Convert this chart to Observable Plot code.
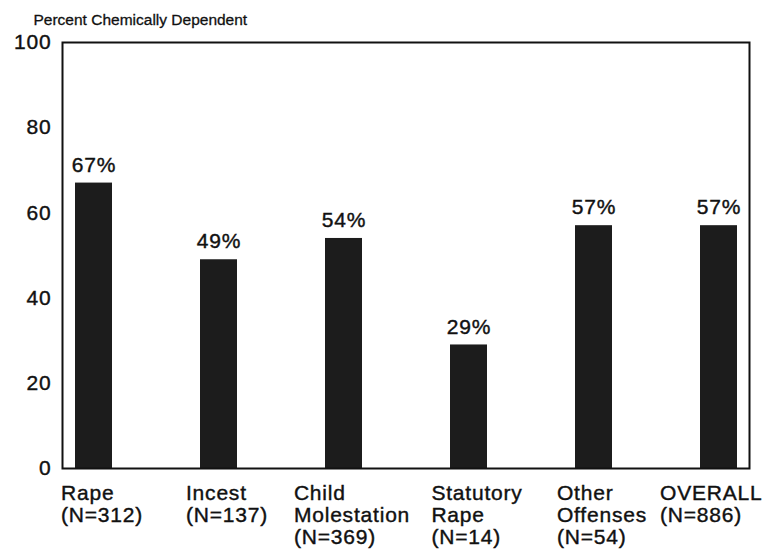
<!DOCTYPE html>
<html>
<head>
<meta charset="utf-8">
<script src="https://cdn.jsdelivr.net/npm/d3@7"></script>
<script src="https://cdn.jsdelivr.net/npm/@observablehq/plot@0.6"></script>
<style>
  html, body { margin: 0; padding: 0; background: #fff; }
  svg { display: block; }
  svg text { letter-spacing: 0.8px; stroke: #111; stroke-width: 0.4px; }
  svg .title text { letter-spacing: 0; stroke-width: 0.3px; }
</style>
</head>
<body>
<div id="chart"></div>
<script>
const categories = ["Rape", "Incest", "Child Molestation", "Statutory Rape", "Other Offenses", "OVERALL"];
const labels = [
  "Rape\n(N=312)",
  "Incest\n(N=137)",
  "Child\nMolestation\n(N=369)",
  "Statutory\nRape\n(N=14)",
  "Other\nOffenses\n(N=54)",
  "OVERALL\n(N=886)"
];
const percents = [67, 49, 54, 29, 57, 57];
const yTicks = [0, 20, 40, 60, 80, 100];
const yTitle = "Percent Chemically Dependent";

const data = categories.map((c, i) => ({category: c, value: percents[i], label: labels[i]}));

const W = 773;
const FONT = "Liberation Sans, Arial, Helvetica, sans-serif";
const ctx = document.createElement("canvas").getContext("2d");
ctx.font = `21px ${FONT}`;
const blockWidth = (s) => Math.max(...s.split("\n").map(l => ctx.measureText(l).width + 0.8 * l.length));

const xRange = [74, 738];
const xScale = d3.scaleBand(categories, xRange).paddingInner(0.705).paddingOuter(0);

const labelMarks = data.map(d => {
  const bw = blockWidth(d.label);
  const center = xScale(d.category) + xScale.bandwidth() / 2;
  const start = Math.min(center - bw / 2 + 8, W - 10 - bw);
  return Plot.text([d], {
    x: "category",
    text: "label",
    frameAnchor: "bottom",
    textAnchor: "start",
    lineAnchor: "top",
    lineHeight: 1.05,
    dy: 16,
    dx: start - center,
    fontSize: 21,
    fill: "#111"
  });
});

const chart = Plot.plot({
  width: W,
  height: 552,
  marginLeft: 62,
  marginRight: 24,
  marginTop: 42,
  marginBottom: 84,
  style: {fontFamily: FONT, fontSize: "21px", color: "#111", background: "#fff"},
  x: {domain: categories, range: xRange, paddingInner: 0.705, paddingOuter: 0, axis: null},
  y: {domain: [0, 100], ticks: yTicks, label: null},
  marks: [
    Plot.axisY({ticks: yTicks, tickSize: 0, tickPadding: 11, fontSize: 21, label: null}),
    Plot.barY(data, {x: "category", y: "value", fill: "#1c1c1c"}),
    Plot.text(data, {x: "category", y: "value", text: d => `${d.value}%`, dy: -18, lineAnchor: "middle", fontSize: 21, fill: "#111"}),
    Plot.text([yTitle], {text: d => d, frameAnchor: "top-left", textAnchor: "start", lineAnchor: "middle", dx: -29, dy: -22, fontSize: 15.5, fill: "#111", className: "title"}),
    ...labelMarks,
    Plot.frame({stroke: "#111", strokeWidth: 2})
  ]
});
document.getElementById("chart").append(chart);
</script>
</body>
</html>
